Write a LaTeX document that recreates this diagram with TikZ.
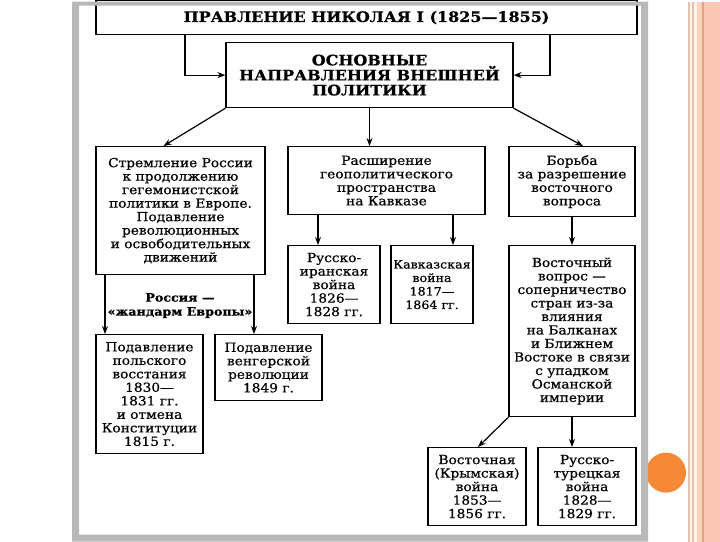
\documentclass[tikz,border=0pt]{standalone}
\usepackage{fontspec}
\setmainfont[FakeStretch=1.1,FakeBold=0.6]{DejaVu Serif}
\usepackage{tikz}
\usetikzlibrary{arrows.meta,positioning,calc}
\definecolor{framegray}{RGB}{184,184,184}
\definecolor{salmon}{RGB}{250,200,180}
\definecolor{peach}{RGB}{247,212,194}
\definecolor{cream}{RGB}{253,243,233}
\definecolor{tan}{RGB}{222,196,176}
\definecolor{rust}{RGB}{236,158,128}
\definecolor{dot}{RGB}{246,137,56}

\begin{document}
\begin{tikzpicture}[x=1pt,y=-1pt,
  box/.style={draw,line width=1.2pt,align=center,inner sep=0pt,
              font=\fontsize{12.5}{13.5}\selectfont},
  head/.style={box,font=\fontsize{14.5}{15}\selectfont\bfseries},
  arr/.style={->,>={Stealth[length=8pt,width=6pt]},line width=1.2pt},
  lbl/.style={align=center,inner sep=1pt,
              font=\fontsize{11.5}{14}\selectfont\bfseries}
]
% slide background, side stripe and dot
\fill[white] (0,0) rectangle (720,540);
\fill[cream] (688,0) rectangle (720,540);
\fill[tan] (688,0) rectangle (690,540);
\fill[tan] (692,0) rectangle (693.5,540);
\fill[peach] (697,0) rectangle (702,540);
\fill[rust] (702,0) rectangle (703.5,540);
\fill[salmon] (703.5,0) rectangle (720,540);
\fill[dot] (666,471) circle (20);

% Row 0: title and main directions
\node[head,minimum width=541pt,minimum height=34pt] (rule) at (366.5,16)
  {ПРАВЛЕНИЕ НИКОЛАЯ I (1825—1855)};
\node[head,minimum width=287pt,minimum height=65pt] (dirs) at (369.5,73.5)
  {ОСНОВНЫЕ\\НАПРАВЛЕНИЯ ВНЕШНЕЙ\\ПОЛИТИКИ};

% Row 1: three directions
\node[box,minimum width=169pt,minimum height=128pt] (europe) at (180.5,209)
  {Стремление России\\к продолжению\\гегемонистской\\политики в Европе.\\
   Подавление\\революционных\\и освободительных\\движений};
\node[box,minimum width=197pt,minimum height=68pt] (caucasus) at (386.5,179)
  {Расширение\\геополитического\\пространства\\на Кавказе};
\node[box,minimum width=126pt,minimum height=70pt] (east) at (572,180)
  {Борьба\\за разрешение\\восточного\\вопроса};

% Row 2: wars and the eastern question
\node[box,minimum width=92pt,minimum height=78pt] (persia) at (334,283)
  {Русско-\\иранская\\война\\1826—\\1828 гг.};
\node[box,minimum width=82pt,minimum height=78pt,
      font=\fontsize{11.5}{13.5}\selectfont] (cauwar) at (432,283)
  {Кавказская\\война\\1817—\\1864 гг.};
\node[box,minimum width=126pt,minimum height=171pt] (eastq) at (572,329.5)
  {Восточный\\вопрос —\\соперничество\\стран из-за\\влияния\\на Балканах\\
   и Ближнем\\Востоке в связи\\с упадком\\Османской\\империи};

% Row 3: suppressions (left) and wars with Turkey (right)
\node[lbl] (gend) at (180,304) {Россия —\\«жандарм Европы»};
\node[box,minimum width=107pt,minimum height=119pt] (poland) at (149.5,392.5)
  {Подавление\\польского\\восстания\\1830—\\1831 гг.\\и отмена\\Конституции\\1815 г.};
\node[box,minimum width=107pt,minimum height=66pt] (hungary) at (268.5,366)
  {Подавление\\венгерской\\революции\\1849 г.};
\node[box,minimum width=98pt,minimum height=78pt] (crimea) at (477,485)
  {Восточная\\(Крымская)\\война\\1853—\\1856 гг.};
\node[box,minimum width=98pt,minimum height=78pt] (turkey) at (587,485)
  {Русско-\\турецкая\\война\\1828—\\1829 гг.};

% title -> directions, both sides
\draw[arr] ([xshift=-181.5pt]rule.south) |- (dirs.west);
\draw[arr] ([xshift=183.5pt]rule.south) |- (dirs.east);
% directions -> row 1
\draw[arr] (dirs.south west) -- ([xshift=-17pt]europe.north);
\draw[arr] (dirs.south) -- (dirs.south |- caucasus.north);
\draw[arr] (dirs.south east) -- ([xshift=11pt]east.north);
% europe -> suppressions
\draw[arr] ([xshift=-75.5pt]europe.south) -- ([xshift=-75.5pt]europe.south |- poland.north);
\draw[arr] ([xshift=73.5pt]europe.south) -- ([xshift=73.5pt]europe.south |- hungary.north);
% caucasus -> wars
\draw[arr] ([xshift=-68.5pt]caucasus.south) -- ([xshift=-68.5pt]caucasus.south |- persia.north);
\draw[arr] ([xshift=66.5pt]caucasus.south) -- ([xshift=66.5pt]caucasus.south |- cauwar.north);
% eastern question
\draw[arr] (east) -- (eastq);
\draw[arr] (eastq.south west) -- ([xshift=1pt]crimea.north);
\draw[arr] (eastq.south) -- (eastq.south |- turkey.north);

% grey frame on top (cuts the title box at the top)
\fill[framegray,even odd rule] (72,0) rectangle (648,540) (79,4) rectangle (641,533);
\useasboundingbox (0,0) rectangle (720,540);
\end{tikzpicture}
\end{document}
